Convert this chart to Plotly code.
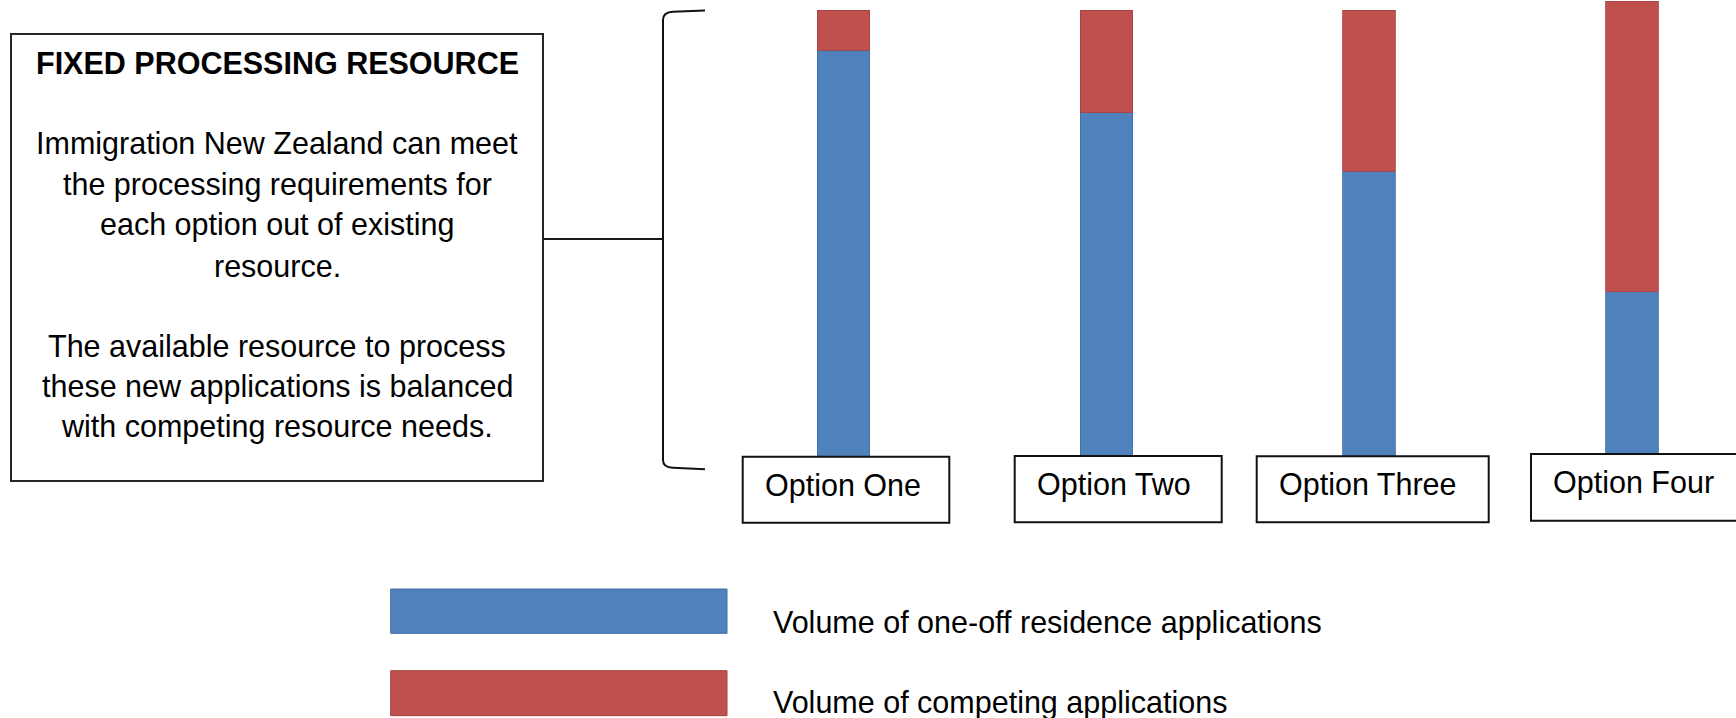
import plotly.graph_objects as go

# Figure size in pixels
W, H = 1736, 718

# Data
options = ["Option One", "Option Two", "Option Three", "Option Four"]
series_names = ["Volume of one-off residence applications", "Volume of competing applications"]
one_off_volume = [91, 77, 64, 37]
competing_volume = [9, 23, 36, 65]

BLUE, BLUE_EDGE = "#4F81BD", "#3F6EA5"
RED, RED_EDGE = "#C0504D", "#A4413E"
FONT = "Liberation Sans, Arial, sans-serif"
SIZE = 30.5


def px(x):
    return x / W


def py(y):
    return 1 - y / H


fig = go.Figure()
fig.add_trace(go.Bar(
    x=options, y=one_off_volume, name=series_names[0], width=0.2,
    marker=dict(color=BLUE, line=dict(color=BLUE_EDGE, width=0.8)),
))
fig.add_trace(go.Bar(
    x=options, y=competing_volume, name=series_names[1], width=0.2,
    marker=dict(color=RED, line=dict(color=RED_EDGE, width=0.8)),
))

shapes = []
annotations = []

# Explanation box on the left
shapes.append(dict(type="rect", xref="paper", yref="paper",
                   x0=px(11), x1=px(543), y0=py(481), y1=py(34),
                   line=dict(color="#262626", width=2), fillcolor="rgba(0,0,0,0)"))
box_lines = [
    ("<b>FIXED PROCESSING RESOURCE</b>", 74),
    ("Immigration New Zealand can meet", 154.5),
    ("the processing requirements for", 195),
    ("each option out of existing", 235.5),
    ("resource.", 276.5),
    ("The available resource to process", 357),
    ("these new applications is balanced", 397.5),
    ("with competing resource needs.", 437.5),
]
for line_text, baseline in box_lines:
    annotations.append(dict(xref="paper", yref="paper", x=px(277), y=py(baseline - 0.3465 * SIZE),
                            xanchor="center", yanchor="middle", align="center",
                            text=line_text, showarrow=False,
                            font=dict(family=FONT, size=SIZE, color="#000000")))

# Connector from the box to the bracket
shapes.append(dict(type="line", xref="paper", yref="paper",
                   x0=px(543), x1=px(663), y0=py(239), y1=py(239),
                   line=dict(color="#1a1a1a", width=2)))

# Bracket spanning the bars
pts = [("M", 705, 10.5), ("L", 673, 11.8), ("Q", 663, 12.3, 663, 20), ("L", 663, 460),
       ("Q", 663, 467.5, 673, 467.8), ("L", 705, 469.3)]
path = ""
for p in pts:
    cmd = p[0]
    coords = p[1:]
    parts = []
    for i in range(0, len(coords), 2):
        parts.append(f"{px(coords[i]):.5f},{py(coords[i + 1]):.5f}")
    path += cmd + " " + " ".join(parts) + " "
shapes.append(dict(type="path", xref="paper", yref="paper", path=path.strip(),
                   line=dict(color="#111111", width=2)))

# Label boxes beneath each bar
label_boxes = [(742.7, 949.3, 456.7, 522.7), (1014.7, 1221.7, 456.0, 522.3),
               (1256.7, 1488.7, 456.3, 522.3), (1531.0, 1740.0, 454.0, 520.7)]
for name, (x0, x1, y0, y1) in zip(options, label_boxes):
    shapes.append(dict(type="rect", xref="paper", yref="paper",
                       x0=px(x0), x1=px(x1), y0=py(y1), y1=py(y0),
                       line=dict(color="#111111", width=2), fillcolor="#ffffff"))
    annotations.append(dict(xref="paper", yref="paper", x=px(x0 + 20), y=py(y0 + 28.5),
                            xanchor="left", yanchor="middle", text=name, showarrow=False,
                            font=dict(family=FONT, size=SIZE, color="#000000")))

# Legend swatches and labels
legend_rows = [(BLUE, BLUE_EDGE, 589, 633.3, 622.5), (RED, RED_EDGE, 670.7, 715.7, 702.5)]
for name, (fill, edge, y0, y1, ty) in zip(series_names, legend_rows):
    shapes.append(dict(type="rect", xref="paper", yref="paper",
                       x0=px(390.7), x1=px(727), y0=py(y1), y1=py(y0),
                       line=dict(color=edge, width=1), fillcolor=fill))
    annotations.append(dict(xref="paper", yref="paper", x=px(771), y=py(ty),
                            xanchor="left", yanchor="middle", text=name, showarrow=False,
                            font=dict(family=FONT, size=SIZE, color="#000000")))

fig.update_layout(
    width=W, height=H,
    margin=dict(l=0, r=0, t=0, b=0),
    paper_bgcolor="#ffffff", plot_bgcolor="#ffffff",
    barmode="stack", showlegend=False,
    xaxis=dict(type="category", range=[-3.21, 3.396], visible=False, fixedrange=True),
    yaxis=dict(range=[-58.53, 102.31], visible=False, fixedrange=True),
    shapes=shapes, annotations=annotations,
    font=dict(family=FONT),
)

fig.write_html("out.html", config={"displayModeBar": False})
